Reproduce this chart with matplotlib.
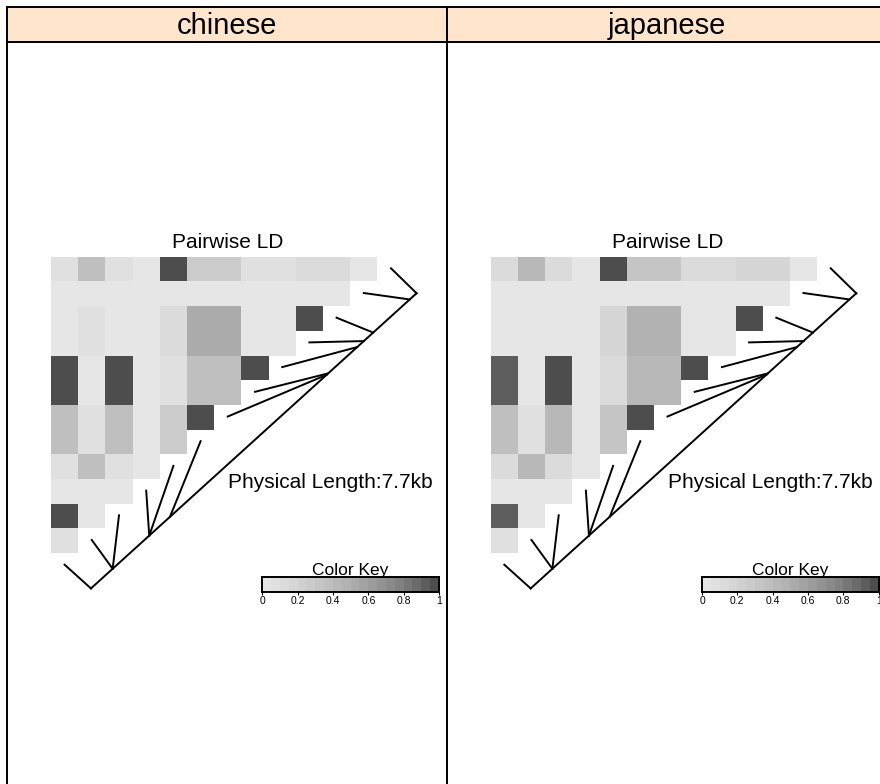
import numpy as np
import matplotlib
matplotlib.use("Agg")
import matplotlib.pyplot as plt
from matplotlib.colors import ListedColormap

plt.rcParams['font.family'] = ['Liberation Sans', 'DejaVu Sans']

# ---------------- data ----------------
populations = ["chinese", "japanese"]

# SNP physical positions (kb), relative to first SNP
snp_pos_kb = [0.0, 0.513, 0.513, 1.378, 1.378, 1.868, 5.572, 5.610,
              6.296, 6.453, 6.674, 7.538, 7.7]

# pairwise LD, one list per heatmap row (top to bottom)
ld_chinese = [
    [0.07, 0.37, 0.07, 0.02, 0.98, 0.27, 0.27, 0.07, 0.07, 0.12, 0.12, 0.02],
    [0.02, 0.02, 0.02, 0.02, 0.02, 0.02, 0.02, 0.02, 0.02, 0.02, 0.02],
    [0.02, 0.07, 0.02, 0.02, 0.12, 0.52, 0.52, 0.02, 0.02, 0.98],
    [0.02, 0.07, 0.02, 0.02, 0.12, 0.52, 0.52, 0.02, 0.02],
    [0.98, 0.02, 0.98, 0.02, 0.07, 0.37, 0.37, 0.98],
    [0.98, 0.02, 0.98, 0.02, 0.07, 0.37, 0.37],
    [0.37, 0.07, 0.37, 0.02, 0.27, 0.98],
    [0.37, 0.07, 0.37, 0.02, 0.27],
    [0.07, 0.37, 0.07, 0.02],
    [0.02, 0.02, 0.02],
    [0.98, 0.02],
    [0.06],
]
ld_japanese = [
    [0.12, 0.42, 0.12, 0.02, 0.98, 0.32, 0.32, 0.12, 0.12, 0.17, 0.17, 0.02],
    [0.02, 0.02, 0.02, 0.02, 0.02, 0.02, 0.02, 0.02, 0.02, 0.02, 0.02],
    [0.02, 0.02, 0.02, 0.02, 0.17, 0.47, 0.47, 0.02, 0.02, 0.98],
    [0.02, 0.02, 0.02, 0.02, 0.17, 0.47, 0.47, 0.02, 0.02],
    [0.92, 0.02, 0.98, 0.02, 0.12, 0.44, 0.44, 0.98],
    [0.92, 0.02, 0.98, 0.02, 0.12, 0.44, 0.44],
    [0.37, 0.07, 0.42, 0.02, 0.32, 0.98],
    [0.37, 0.07, 0.42, 0.02, 0.32],
    [0.12, 0.42, 0.12, 0.02],
    [0.02, 0.02, 0.02],
    [0.92, 0.02],
    [0.06],
]
key_ticks = [0, 0.2, 0.4, 0.6, 0.8, 1]
key_labels = ["0", "0.2", "0.4", "0.6", "0.8", "1"]

# ---------------- style ----------------
W, H = 880, 784
n_col = 20
_s, _e = 0.9 ** 2.2, 0.3 ** 2.2
greys = [(_s + (_e - _s) * i / (n_col - 1)) ** (1 / 2.2) for i in range(n_col)]
cmap = ListedColormap([(g, g, g) for g in greys])
STRIP = '#FFE5CC'
LW = 1.4


def rect(x0, y0, x1, y1):
    return [x0 / W, 1 - y1 / H, (x1 - x0) / W, (y1 - y0) / H]


def fy(y):
    return 1 - y / H


fig = plt.figure(figsize=(W / 100, H / 100), dpi=100)

panel_dx = [0.0, 439.7]
for pop, ld, dx in zip(populations, [ld_chinese, ld_japanese], panel_dx):
    # panel box
    pax = fig.add_axes(rect(7.3 + dx, 42.3, 447 + dx, 820))
    pax.set_xticks([]); pax.set_yticks([])
    for sp in pax.spines.values():
        sp.set_linewidth(LW)
    # strip
    sax = fig.add_axes(rect(7.3 + dx, 7.3, 447 + dx, 42.3))
    sax.set_facecolor(STRIP)
    sax.set_xticks([]); sax.set_yticks([])
    for sp in sax.spines.values():
        sp.set_linewidth(LW)
    sax.text(0.5, 0.23, pop, transform=sax.transAxes, ha='center',
             va='baseline', fontsize=21)

    # heatmap
    n = len(ld)
    M = np.full((n, n), np.nan)
    for i, row in enumerate(ld):
        M[i, :len(row)] = row
    hax = fig.add_axes(rect(51 + dx, 256.7, 377.4 + dx, 553.1))
    hax.pcolormesh(np.arange(n + 1), np.arange(n + 1), np.ma.masked_invalid(M),
                   cmap=cmap, vmin=0, vmax=1, shading='flat')
    hax.set_xlim(0, n); hax.set_ylim(n, 0)
    hax.axis('off')

    # genomic line and SNP connectors
    pos = np.array(snp_pos_kb)
    t = (pos - pos[0]) / (pos[-1] - pos[0])
    A = np.array([1.47, n + 1.43])
    B = np.array([n + 1.44, 1.48])
    hax.plot([A[0], B[0]], [A[1], B[1]], color='black', lw=LW, clip_on=False)
    for k, tk in enumerate(t):
        P = A + tk * (B - A)
        Q = (k + 0.5, n + 0.47 - k)
        hax.plot([Q[0], P[0]], [Q[1], P[1]], color='black', lw=LW,
                 clip_on=False)

    fig.text((227.5 + dx) / W, fy(248), "Pairwise LD", ha='center',
             va='baseline', fontsize=15)
    fig.text((228.3 + dx) / W, fy(488),
             "Physical Length:%.1fkb" % (pos[-1] - pos[0]),
             ha='left', va='baseline', fontsize=15)

    # color key
    kax = fig.add_axes(rect(262.3 + dx, 576.7, 439 + dx, 592))
    edges = np.linspace(0, 1, n_col + 1)
    kax.pcolormesh(edges, [0, 1], ((edges[:-1] + edges[1:]) / 2)[None, :],
                   cmap=cmap, vmin=0, vmax=1)
    kax.set_xlim(0, 1); kax.set_ylim(0, 1)
    kax.set_yticks([])
    kax.set_xticks(key_ticks)
    kax.set_xticklabels(key_labels, fontsize=7.5)
    kax.tick_params(axis='x', length=2.5, width=0.8, pad=0.5)
    for sp in kax.spines.values():
        sp.set_linewidth(LW)
    fig.text((350.6 + dx) / W, fy(575), "Color Key", ha='center',
             va='baseline', fontsize=12.5)

fig.savefig("out.png", dpi=100)
